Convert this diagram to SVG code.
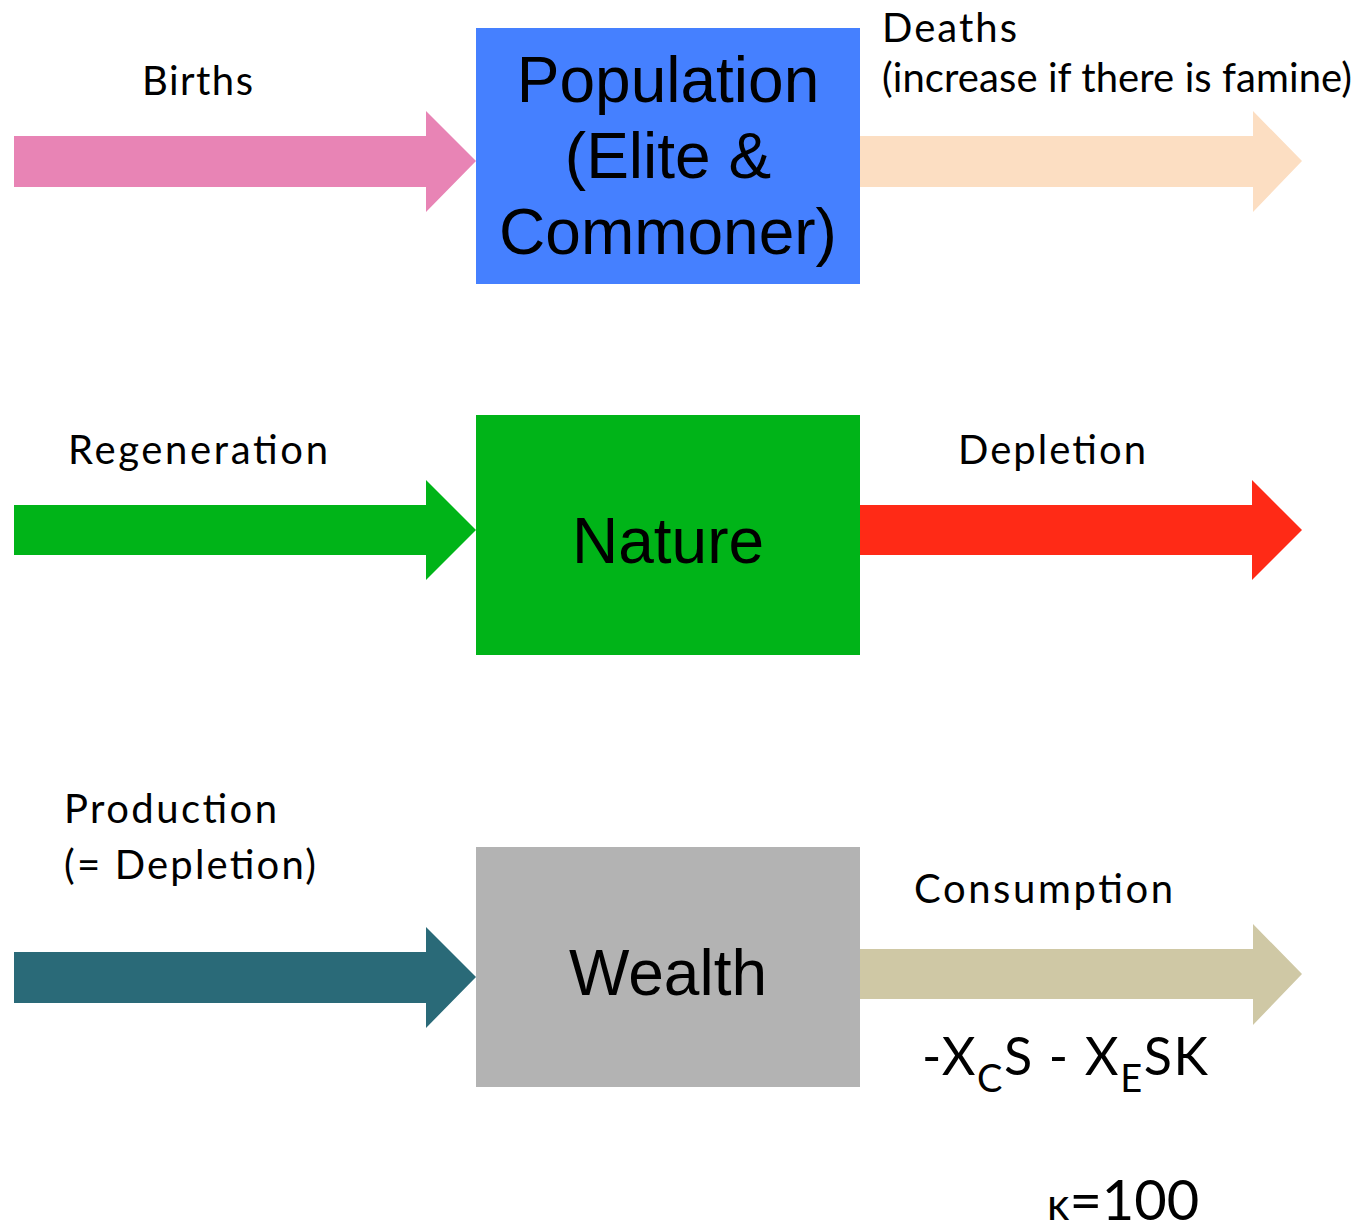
<svg xmlns="http://www.w3.org/2000/svg" width="1361" height="1227" viewBox="0 0 1361 1227">
  <style>
    .box-label { font-family: "Liberation Sans", Arial, sans-serif; font-size: 64px; fill: #000; text-anchor: middle; }
    .flow-label { font-family: Lato, "Open Sans", sans-serif; font-size: 40px; fill: #000; }
    .math { font-family: Lato, "Open Sans", sans-serif; fill: #000; }
  </style>
  <rect width="1361" height="1227" fill="#fff"/>

  <!-- flow arrows -->
  <g id="connectors">
    <polygon fill="#E884B5" points="14,136 426,136 426,111 476,161 426,212 426,187 14,187"/>
    <polygon fill="#FCDEC2" points="857,136 1253,136 1253,111 1302,161 1253,212 1253,187 857,187"/>
    <polygon fill="#00B418" points="14,505 426,505 426,480 476,530 426,580 426,555 14,555"/>
    <polygon fill="#FF2A16" points="860,505 1252,505 1252,480 1302,530 1252,580 1252,555 860,555"/>
    <polygon fill="#2A6A78" points="14,952 426,952 426,927 476,977 426,1028 426,1003 14,1003"/>
    <polygon fill="#CFC8A5" points="860,949 1253,949 1253,924 1302,974 1253,1025 1253,999 860,999"/>
  </g>

  <!-- stocks -->
  <g id="population">
    <rect x="476" y="28" width="384" height="256" fill="#4580FF"/>
    <text class="box-label" x="668" y="102">Population</text>
    <text class="box-label" x="668" y="178">(Elite &amp;</text>
    <text class="box-label" x="668" y="254">Commoner)</text>
  </g>
  <g id="nature">
    <rect x="476" y="415" width="384" height="240" fill="#00B418"/>
    <text class="box-label" x="668" y="563">Nature</text>
  </g>
  <g id="wealth">
    <rect x="476" y="847" width="384" height="240" fill="#B3B3B3"/>
    <text class="box-label" x="668" y="995">Wealth</text>
  </g>

  <!-- flow labels -->
  <g id="labels">
    <text class="flow-label" x="142" y="95" textLength="111">Births</text>
    <text class="flow-label" x="882" y="42" textLength="135">Deaths</text>
    <text class="flow-label" x="882" y="92" textLength="470">(increase if there is famine)</text>
    <text class="flow-label" x="68" y="464" textLength="260">Regeneration</text>
    <text class="flow-label" x="958" y="464" textLength="188">Depletion</text>
    <text class="flow-label" x="64" y="823" textLength="213">Production</text>
    <text class="flow-label" x="64" y="879" textLength="252">(= Depletion)</text>
    <text class="flow-label" x="914" y="903" textLength="259">Consumption</text>
  </g>

  <!-- consumption term and parameter -->
  <g id="formula">
    <text class="math" x="922" y="1075" font-size="52" textLength="286">-X<tspan font-size="38" dy="17">C</tspan><tspan dy="-17">S - X</tspan><tspan font-size="38" dy="17">E</tspan><tspan dy="-17">SK</tspan></text>
    <text class="math" x="1047" y="1220" font-size="56"><tspan font-size="44">κ</tspan>=100</text>
  </g>
</svg>
